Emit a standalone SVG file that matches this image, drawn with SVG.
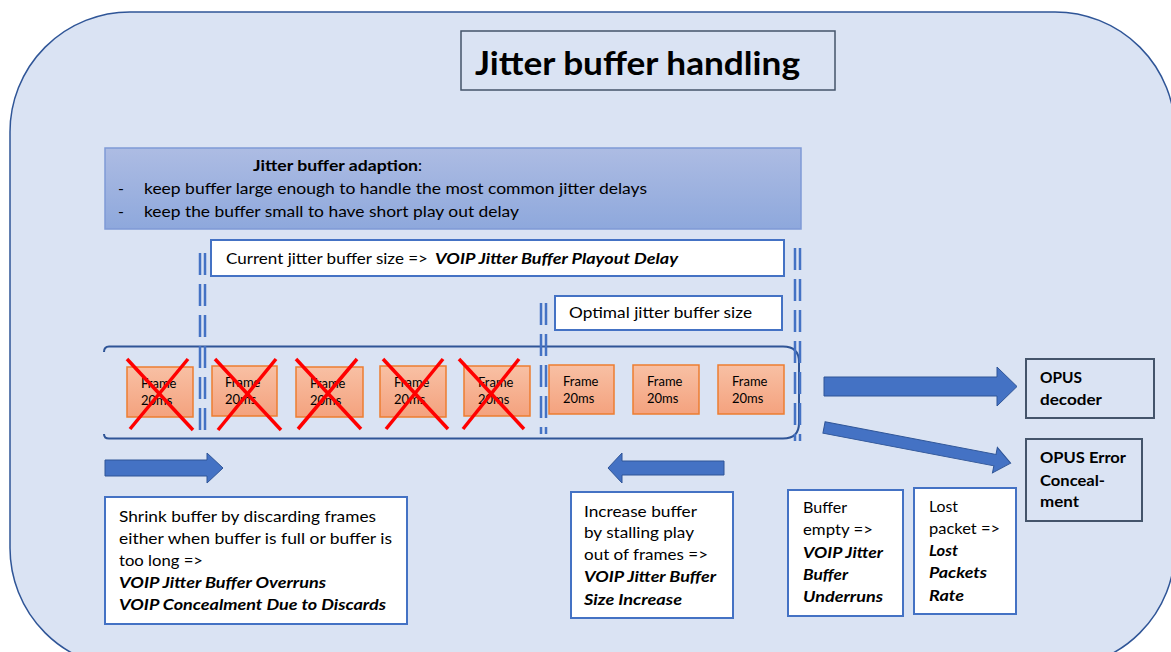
<svg xmlns="http://www.w3.org/2000/svg" width="1171" height="652" viewBox="0 0 1171 652">
<defs>
<linearGradient id="gBlue" x1="0" y1="0" x2="0" y2="1">
<stop offset="0" stop-color="#adbce3"/>
<stop offset="1" stop-color="#8ea8dc"/>
</linearGradient>
<linearGradient id="gFrame" x1="0" y1="0" x2="0" y2="1">
<stop offset="0" stop-color="#f8c0a4"/>
<stop offset="1" stop-color="#f4a27e"/>
</linearGradient>
<style>
text{font-family:Lato,"Liberation Sans",Arial,sans-serif;fill:#000;}
.b{font-size:16px;}
.bi{font-size:16px;font-weight:bold;font-style:italic;}
.bold{font-weight:bold;}
.wbox{fill:#fff;stroke:#4472c4;stroke-width:2;}
.gbox{fill:none;stroke:#44546a;stroke-width:2;}
.frame{fill:url(#gFrame);stroke:#ed7d31;stroke-width:1.5;}
.ft{font-size:13px;}
.x{stroke:#ff0000;stroke-width:3.5;stroke-linecap:butt;}
.dash{stroke:#4472c4;stroke-width:2.5;stroke-dasharray:22 9;fill:none;}
.arrow{fill:#4472c4;stroke:#2f5597;stroke-width:1;}
</style>
</defs>

<rect id="background" x="10" y="12" width="1165" height="656" rx="120" ry="120" fill="#dae3f3" stroke="#2f5597" stroke-width="1.5"/>

<g id="title">
<rect x="461" y="31" width="374" height="59" fill="#dae3f3" stroke="#44546a" stroke-width="1.5"/>
<text x="475" y="75" font-size="32" font-weight="bold" textLength="325" lengthAdjust="spacingAndGlyphs">Jitter buffer handling</text>
</g>

<g id="adaption">
<rect x="105" y="148" width="696" height="81" fill="url(#gBlue)" stroke="#7f9ad6" stroke-width="1.5"/>
<text class="b bold" x="253" y="171" textLength="165" lengthAdjust="spacingAndGlyphs">Jitter buffer adaption</text>
<text class="b" x="418" y="171">:</text>
<text class="b" x="118" y="194">-</text>
<text class="b" x="144" y="194" textLength="503" lengthAdjust="spacingAndGlyphs">keep buffer large enough to handle the most common jitter delays</text>
<text class="b" x="118" y="217">-</text>
<text class="b" x="144" y="217" textLength="375" lengthAdjust="spacingAndGlyphs">keep the buffer small to have short play out delay</text>
</g>

<g id="current-size">
<rect class="wbox" x="211" y="240" width="573" height="36"/>
<text class="b" x="226" y="264" textLength="202" lengthAdjust="spacingAndGlyphs">Current jitter buffer size =&gt;</text>
<text class="bi" x="435" y="264" textLength="243" lengthAdjust="spacingAndGlyphs">VOIP Jitter Buffer Playout Delay</text>
</g>

<g id="optimal-size">
<rect class="wbox" x="555" y="296" width="227" height="34"/>
<text class="b" x="569" y="318" textLength="183" lengthAdjust="spacingAndGlyphs">Optimal jitter buffer size</text>
</g>

<g id="buffer">
<path d="M104 352 Q104 346.5 109 346.5 H783 Q799 346.5 799 362 V423 Q799 438.5 783 438.5 H109 Q104 438.5 104 434" fill="none" stroke="#2f5597" stroke-width="2"/>
</g>

<g id="frames">
<g id="frame1"><rect class="frame" x="127" y="367" width="66" height="50"/><text class="ft" x="141" y="388">Frame</text><text class="ft" x="141" y="405">20ms</text></g>
<g id="frame2"><rect class="frame" x="212" y="366" width="65" height="50"/><text class="ft" x="225" y="387">Frame</text><text class="ft" x="225" y="404">20ms</text></g>
<g id="frame3"><rect class="frame" x="296" y="367" width="67" height="50"/><text class="ft" x="310" y="388">Frame</text><text class="ft" x="310" y="405">20ms</text></g>
<g id="frame4"><rect class="frame" x="380" y="366" width="66" height="51"/><text class="ft" x="394" y="387">Frame</text><text class="ft" x="394" y="404">20ms</text></g>
<g id="frame5"><rect class="frame" x="464" y="366" width="66" height="50"/><text class="ft" x="478" y="387">Frame</text><text class="ft" x="478" y="404">20ms</text></g>
<g id="frame6"><rect class="frame" x="549" y="365" width="65" height="49"/><text class="ft" x="563" y="386">Frame</text><text class="ft" x="563" y="403">20ms</text></g>
<g id="frame7"><rect class="frame" x="633" y="365" width="66" height="49"/><text class="ft" x="647" y="386">Frame</text><text class="ft" x="647" y="403">20ms</text></g>
<g id="frame8"><rect class="frame" x="718" y="365" width="66" height="49"/><text class="ft" x="732" y="386">Frame</text><text class="ft" x="732" y="403">20ms</text></g>
</g>

<g id="discard-marks">
<line class="x" x1="127" y1="359" x2="193" y2="430"/><line class="x" x1="188" y1="359" x2="130" y2="429"/>
<line class="x" x1="215" y1="359" x2="281" y2="430"/><line class="x" x1="276" y1="359" x2="218" y2="430"/>
<line class="x" x1="296" y1="359" x2="361" y2="429"/><line class="x" x1="357" y1="359" x2="298" y2="429"/>
<line class="x" x1="383" y1="359" x2="448" y2="429"/><line class="x" x1="443" y1="359" x2="386" y2="429"/>
<line class="x" x1="459" y1="359" x2="524" y2="429"/><line class="x" x1="519" y1="359" x2="463" y2="429"/>
</g>

<g id="connectors">
<line class="dash" x1="200" y1="253" x2="200" y2="434"/>
<line class="dash" x1="205" y1="253" x2="205" y2="434"/>
<line class="dash" x1="541" y1="303" x2="541" y2="434"/>
<line class="dash" x1="546" y1="303" x2="546" y2="434"/>
<line class="dash" x1="795" y1="248" x2="795" y2="441"/>
<line class="dash" x1="800" y1="248" x2="800" y2="441"/>
<path class="arrow" d="M824 377 H997 V367 L1017 386.5 L997 406 V396 H824 Z"/>
<path class="arrow" transform="translate(824 427.5) rotate(10.8)" d="M0 -5.8 H174 V-13 L190 0 L174 13 V5.8 H0 Z"/>
<path class="arrow" d="M105 460 H207 V453 L223 468 L207 483 V476 H105 Z"/>
<path class="arrow" d="M724 461 H622 V453 L608 468 L622 483 V475 H724 Z"/>
</g>

<g id="opus-decoder">
<rect class="gbox" x="1026" y="359" width="128" height="59"/>
<text class="b bold" x="1040" y="383" textLength="42" lengthAdjust="spacingAndGlyphs">OPUS</text>
<text class="b bold" x="1040" y="405" textLength="62" lengthAdjust="spacingAndGlyphs">decoder</text>
</g>

<g id="opus-concealment">
<rect class="gbox" x="1026" y="439" width="116" height="82"/>
<text class="b bold" x="1040" y="463" textLength="86" lengthAdjust="spacingAndGlyphs">OPUS Error</text>
<text class="b bold" x="1040" y="486" textLength="65" lengthAdjust="spacingAndGlyphs">Conceal-</text>
<text class="b bold" x="1040" y="507" textLength="39" lengthAdjust="spacingAndGlyphs">ment</text>
</g>

<g id="shrink">
<rect class="wbox" x="105" y="497" width="302" height="127"/>
<text class="b" x="119" y="522" textLength="257" lengthAdjust="spacingAndGlyphs">Shrink buffer by discarding frames</text>
<text class="b" x="119" y="544" textLength="273" lengthAdjust="spacingAndGlyphs">either when buffer is full or buffer is</text>
<text class="b" x="119" y="566" textLength="84" lengthAdjust="spacingAndGlyphs">too long =&gt;</text>
<text class="bi" x="119" y="588" textLength="207" lengthAdjust="spacingAndGlyphs">VOIP Jitter Buffer Overruns</text>
<text class="bi" x="119" y="610" textLength="267" lengthAdjust="spacingAndGlyphs">VOIP Concealment Due to Discards</text>
</g>

<g id="increase">
<rect class="wbox" x="571" y="492" width="162" height="126"/>
<text class="b" x="584" y="517" textLength="113" lengthAdjust="spacingAndGlyphs">Increase buffer</text>
<text class="b" x="584" y="538" textLength="110" lengthAdjust="spacingAndGlyphs">by stalling play</text>
<text class="b" x="584" y="560" textLength="124" lengthAdjust="spacingAndGlyphs">out of frames =&gt;</text>
<text class="bi" x="584" y="582" textLength="132" lengthAdjust="spacingAndGlyphs">VOIP Jitter Buffer</text>
<text class="bi" x="584" y="605" textLength="98" lengthAdjust="spacingAndGlyphs">Size Increase</text>
</g>

<g id="underruns">
<rect class="wbox" x="788" y="490" width="115" height="126"/>
<text class="b" x="803" y="513" textLength="44" lengthAdjust="spacingAndGlyphs">Buffer</text>
<text class="b" x="803" y="535" textLength="70" lengthAdjust="spacingAndGlyphs">empty =&gt;</text>
<text class="bi" x="803" y="558" textLength="80" lengthAdjust="spacingAndGlyphs">VOIP Jitter</text>
<text class="bi" x="803" y="580" textLength="45" lengthAdjust="spacingAndGlyphs">Buffer</text>
<text class="bi" x="803" y="602" textLength="80" lengthAdjust="spacingAndGlyphs">Underruns</text>
</g>

<g id="lost-packets">
<rect class="wbox" x="914" y="488" width="102" height="126"/>
<text class="b" x="929" y="512" textLength="29" lengthAdjust="spacingAndGlyphs">Lost</text>
<text class="b" x="929" y="534" textLength="71" lengthAdjust="spacingAndGlyphs">packet =&gt;</text>
<text class="bi" x="929" y="556" textLength="29" lengthAdjust="spacingAndGlyphs">Lost</text>
<text class="bi" x="929" y="578" textLength="58" lengthAdjust="spacingAndGlyphs">Packets</text>
<text class="bi" x="929" y="601" textLength="35" lengthAdjust="spacingAndGlyphs">Rate</text>
</g>
</svg>
